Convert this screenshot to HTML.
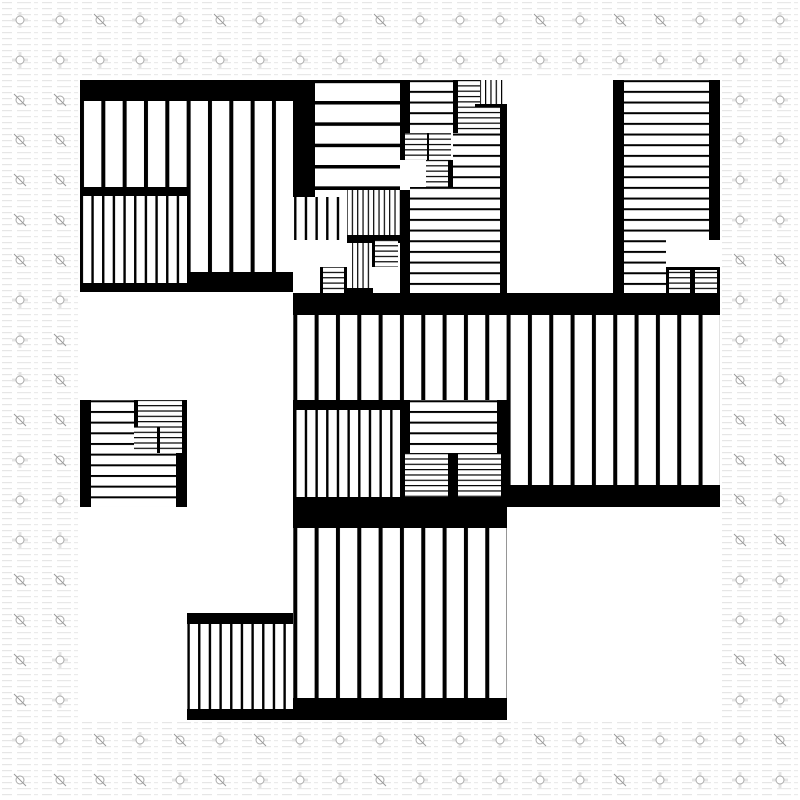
<!DOCTYPE html>
<html><head><style>
html,body{margin:0;padding:0;background:#fff}
svg{display:block}
</style></head><body>
<svg width="800" height="800" viewBox="0 0 800 800" xmlns="http://www.w3.org/2000/svg">
<defs>
<pattern id="bgd" width="40" height="6" patternUnits="userSpaceOnUse">
<rect width="40" height="6" fill="#fff"/>
<rect x="2" y="2" width="10" height="1.2" fill="#e6e6e6"/>
<rect x="17" y="2" width="14" height="1.2" fill="#e8e8e8"/>
<rect x="34" y="2" width="4" height="1.2" fill="#ebebeb"/>
</pattern>
<pattern id="vW" x="16" y="0" width="21.33" height="10" patternUnits="userSpaceOnUse">
<rect width="21.33" height="10" fill="#fff"/><rect x="0" width="4" height="10" fill="#000"/></pattern>
<pattern id="vN" x="6" y="0" width="10.67" height="10" patternUnits="userSpaceOnUse">
<rect width="10.67" height="10" fill="#fff"/><rect x="0" width="2.4" height="10" fill="#000"/></pattern>
<pattern id="vF" x="0" y="0" width="5.33" height="10" patternUnits="userSpaceOnUse">
<rect width="5.33" height="10" fill="#fff"/><rect x="0" width="1.2" height="10" fill="#000"/></pattern>
<pattern id="hW" x="0" y="15.7" width="10" height="21.33" patternUnits="userSpaceOnUse">
<rect width="10" height="21.33" fill="#fff"/><rect y="0" width="10" height="3.5" fill="#000"/></pattern>
<pattern id="hN" x="0" y="5.5" width="10" height="10.67" patternUnits="userSpaceOnUse">
<rect width="10" height="10.67" fill="#fff"/><rect y="0" width="10" height="2" fill="#000"/></pattern>
<pattern id="hF" x="0" y="0" width="10" height="5.33" patternUnits="userSpaceOnUse">
<rect width="10" height="5.33" fill="#fff"/><rect y="0" width="10" height="1.2" fill="#000"/></pattern>
<g id="sym"><line x1="-8" y1="0" x2="8" y2="0" stroke="#e4e4e4" stroke-width="3"/><line x1="0" y1="-8" x2="0" y2="8" stroke="#e4e4e4" stroke-width="3"/><circle r="4" fill="#fff" stroke="#aaa" stroke-width="1"/></g>
<g id="sl"><circle r="4" fill="#fff" stroke="#aaa" stroke-width="1"/><line x1="-6" y1="-6" x2="6" y2="6" stroke="#999" stroke-width="1"/></g>
</defs>
<rect width="800" height="800" fill="url(#bgd)"/>
<rect x="80" y="80" width="640" height="640" fill="#fff"/>
<g id="syms">
<use href="#sym" x="20" y="20"/><use href="#sym" x="60" y="20"/><use href="#sl" x="100" y="20"/><use href="#sym" x="140" y="20"/><use href="#sym" x="180" y="20"/><use href="#sl" x="220" y="20"/><use href="#sym" x="260" y="20"/><use href="#sym" x="300" y="20"/><use href="#sym" x="340" y="20"/><use href="#sl" x="380" y="20"/><use href="#sym" x="420" y="20"/><use href="#sym" x="460" y="20"/><use href="#sym" x="500" y="20"/><use href="#sl" x="540" y="20"/><use href="#sym" x="580" y="20"/><use href="#sl" x="620" y="20"/><use href="#sl" x="660" y="20"/><use href="#sym" x="700" y="20"/><use href="#sym" x="740" y="20"/><use href="#sym" x="780" y="20"/>
<use href="#sym" x="20" y="60"/><use href="#sym" x="60" y="60"/><use href="#sym" x="100" y="60"/><use href="#sym" x="140" y="60"/><use href="#sym" x="180" y="60"/><use href="#sym" x="220" y="60"/><use href="#sym" x="260" y="60"/><use href="#sym" x="300" y="60"/><use href="#sym" x="340" y="60"/><use href="#sym" x="380" y="60"/><use href="#sym" x="420" y="60"/><use href="#sym" x="460" y="60"/><use href="#sym" x="500" y="60"/><use href="#sym" x="540" y="60"/><use href="#sym" x="580" y="60"/><use href="#sym" x="620" y="60"/><use href="#sym" x="660" y="60"/><use href="#sym" x="700" y="60"/><use href="#sym" x="740" y="60"/><use href="#sym" x="780" y="60"/>
<use href="#sym" x="20" y="740"/><use href="#sym" x="60" y="740"/><use href="#sl" x="100" y="740"/><use href="#sym" x="140" y="740"/><use href="#sl" x="180" y="740"/><use href="#sym" x="220" y="740"/><use href="#sl" x="260" y="740"/><use href="#sym" x="300" y="740"/><use href="#sym" x="340" y="740"/><use href="#sym" x="380" y="740"/><use href="#sl" x="420" y="740"/><use href="#sym" x="460" y="740"/><use href="#sym" x="500" y="740"/><use href="#sl" x="540" y="740"/><use href="#sym" x="580" y="740"/><use href="#sl" x="620" y="740"/><use href="#sym" x="660" y="740"/><use href="#sym" x="700" y="740"/><use href="#sym" x="740" y="740"/><use href="#sl" x="780" y="740"/>
<use href="#sl" x="20" y="780"/><use href="#sl" x="60" y="780"/><use href="#sl" x="100" y="780"/><use href="#sl" x="140" y="780"/><use href="#sym" x="180" y="780"/><use href="#sl" x="220" y="780"/><use href="#sym" x="260" y="780"/><use href="#sym" x="300" y="780"/><use href="#sym" x="340" y="780"/><use href="#sl" x="380" y="780"/><use href="#sym" x="420" y="780"/><use href="#sym" x="460" y="780"/><use href="#sym" x="500" y="780"/><use href="#sym" x="540" y="780"/><use href="#sym" x="580" y="780"/><use href="#sl" x="620" y="780"/><use href="#sym" x="660" y="780"/><use href="#sym" x="700" y="780"/><use href="#sym" x="740" y="780"/><use href="#sym" x="780" y="780"/>
<use href="#sl" x="20" y="100"/><use href="#sl" x="60" y="100"/><use href="#sl" x="20" y="140"/><use href="#sl" x="60" y="140"/><use href="#sl" x="20" y="180"/><use href="#sl" x="60" y="180"/><use href="#sl" x="20" y="220"/><use href="#sl" x="60" y="220"/><use href="#sl" x="20" y="260"/><use href="#sl" x="60" y="260"/><use href="#sym" x="20" y="300"/><use href="#sym" x="60" y="300"/><use href="#sym" x="20" y="340"/><use href="#sl" x="60" y="340"/><use href="#sym" x="20" y="380"/><use href="#sl" x="60" y="380"/><use href="#sl" x="20" y="420"/><use href="#sl" x="60" y="420"/><use href="#sym" x="20" y="460"/><use href="#sl" x="60" y="460"/><use href="#sym" x="20" y="500"/><use href="#sym" x="60" y="500"/><use href="#sym" x="20" y="540"/><use href="#sym" x="60" y="540"/><use href="#sl" x="20" y="580"/><use href="#sl" x="60" y="580"/><use href="#sl" x="20" y="620"/><use href="#sl" x="60" y="620"/><use href="#sl" x="20" y="660"/><use href="#sym" x="60" y="660"/><use href="#sl" x="20" y="700"/><use href="#sym" x="60" y="700"/>
<use href="#sym" x="740" y="100"/><use href="#sym" x="780" y="100"/><use href="#sym" x="740" y="140"/><use href="#sym" x="780" y="140"/><use href="#sym" x="740" y="180"/><use href="#sym" x="780" y="180"/><use href="#sym" x="740" y="220"/><use href="#sym" x="780" y="220"/><use href="#sl" x="740" y="260"/><use href="#sl" x="780" y="260"/><use href="#sym" x="740" y="300"/><use href="#sym" x="780" y="300"/><use href="#sym" x="740" y="340"/><use href="#sym" x="780" y="340"/><use href="#sl" x="740" y="380"/><use href="#sym" x="780" y="380"/><use href="#sl" x="740" y="420"/><use href="#sl" x="780" y="420"/><use href="#sl" x="740" y="460"/><use href="#sl" x="780" y="460"/><use href="#sl" x="740" y="500"/><use href="#sym" x="780" y="500"/><use href="#sl" x="740" y="540"/><use href="#sl" x="780" y="540"/><use href="#sym" x="740" y="580"/><use href="#sym" x="780" y="580"/><use href="#sym" x="740" y="620"/><use href="#sym" x="780" y="620"/><use href="#sl" x="740" y="660"/><use href="#sl" x="780" y="660"/><use href="#sym" x="740" y="700"/><use href="#sym" x="780" y="700"/>
</g>

<!-- top-left block -->
<rect x="80" y="80" width="233" height="21" fill="#000"/>
<rect x="80" y="101" width="3" height="191" fill="#000"/>
<rect x="83" y="101" width="106" height="86" fill="url(#vW)"/>
<rect x="80" y="187" width="109" height="9" fill="#000"/>
<rect x="82" y="196" width="107" height="87" fill="url(#vN)"/>
<rect x="80" y="283" width="213" height="9" fill="#000"/>
<rect x="189" y="101" width="104" height="171" fill="url(#vW)"/>
<rect x="187" y="101" width="3" height="171" fill="#000"/>
<rect x="187" y="272" width="106" height="20" fill="#000"/>
<rect x="293" y="80" width="22" height="117" fill="#000"/>

<!-- top middle -->
<rect x="315" y="80" width="85" height="107" fill="url(#hW)"/>
<rect x="315" y="187" width="85" height="3" fill="#000"/>
<rect x="293" y="197" width="54" height="43" fill="url(#vN)"/>
<rect x="347" y="190" width="53" height="45" fill="url(#vF)"/>
<rect x="347" y="235" width="53" height="8" fill="#000"/>
<rect x="352" y="243" width="21" height="45" fill="url(#vF)"/>
<rect x="373" y="240" width="25" height="27" fill="url(#hF)"/>
<rect x="372" y="240" width="3" height="27" fill="#000"/>
<rect x="320" y="267" width="27" height="26" fill="url(#hF)"/>
<rect x="320" y="267" width="3" height="26" fill="#000"/><rect x="344" y="267" width="3" height="26" fill="#000"/>
<rect x="347" y="288" width="26" height="5" fill="#000"/>
<rect x="400" y="80" width="10" height="80" fill="#000"/>
<rect x="400" y="190" width="10" height="103" fill="#000"/>
<rect x="410" y="80" width="43" height="53" fill="url(#hN)"/>
<rect x="453" y="80" width="5" height="53" fill="#000"/>
<rect x="458" y="80" width="22" height="27" fill="url(#hF)"/>
<rect x="480" y="80" width="25" height="24" fill="url(#vF)"/>
<rect x="475" y="104" width="32" height="3" fill="#000"/>
<rect x="458" y="107" width="42" height="26" fill="url(#hF)"/>
<rect x="500" y="104" width="7" height="189" fill="#000"/>
<rect x="405" y="133" width="22" height="27" fill="url(#hF)"/>
<rect x="427" y="133" width="24" height="27" fill="url(#hF)"/>
<rect x="427" y="133" width="2" height="27" fill="#000"/>
<rect x="426" y="160" width="23" height="27" fill="url(#hF)"/>
<rect x="448" y="160" width="5" height="27" fill="#000"/>
<rect x="453" y="133" width="47" height="54" fill="url(#hN)"/>
<rect x="410" y="187" width="90" height="106" fill="url(#hN)"/>

<!-- top right -->
<rect x="613" y="80" width="11" height="213" fill="#000"/>
<rect x="624" y="80" width="85" height="160" fill="url(#hN)"/>
<rect x="709" y="80" width="11" height="160" fill="#000"/>
<rect x="624" y="240" width="42" height="53" fill="url(#hN)"/>
<rect x="666" y="267" width="54" height="26" fill="#000"/>
<rect x="669" y="270" width="21" height="23" fill="url(#hF)"/>
<rect x="695" y="270" width="22" height="23" fill="url(#hF)"/>

<!-- big middle -->
<rect x="293" y="293" width="427" height="22" fill="#000"/>
<rect x="293" y="315" width="214" height="85" fill="url(#vW)"/>
<rect x="507" y="315" width="213" height="170" fill="url(#vW)"/>
<rect x="507" y="485" width="213" height="22" fill="#000"/>
<rect x="293" y="400" width="117" height="10" fill="#000"/>
<rect x="293" y="410" width="107" height="87" fill="url(#vN)"/>
<rect x="293" y="410" width="3" height="87" fill="#000"/>
<rect x="400" y="400" width="10" height="107" fill="#000"/>
<rect x="410" y="400" width="87" height="53" fill="url(#hN)"/>
<rect x="497" y="400" width="10" height="107" fill="#000"/>
<rect x="405" y="453" width="43" height="54" fill="url(#hF)"/>
<rect x="448" y="453" width="10" height="54" fill="#000"/>
<rect x="458" y="453" width="43" height="54" fill="url(#hF)"/>
<rect x="293" y="497" width="214" height="31" fill="#000"/>

<!-- bottom -->
<rect x="293" y="528" width="214" height="170" fill="url(#vW)"/>
<rect x="293" y="698" width="214" height="22" fill="#000"/>
<rect x="187" y="613" width="106" height="11" fill="#000"/>
<rect x="187" y="624" width="106" height="85" fill="url(#vN)"/>
<rect x="187" y="709" width="106" height="11" fill="#000"/>

<!-- left small -->
<rect x="80" y="400" width="11" height="107" fill="#000"/>
<rect x="91" y="400" width="43" height="53" fill="url(#hN)"/>
<rect x="134" y="400" width="4" height="32" fill="#000"/>
<rect x="138" y="400" width="49" height="53" fill="url(#hF)"/>
<rect x="182" y="400" width="5" height="53" fill="#000"/>
<rect x="134" y="427" width="26" height="26" fill="url(#hF)"/>
<rect x="157" y="427" width="3" height="26" fill="#000"/>
<rect x="91" y="453" width="85" height="54" fill="url(#hN)"/>
<rect x="176" y="453" width="11" height="54" fill="#000"/>
</svg>
</body></html>
